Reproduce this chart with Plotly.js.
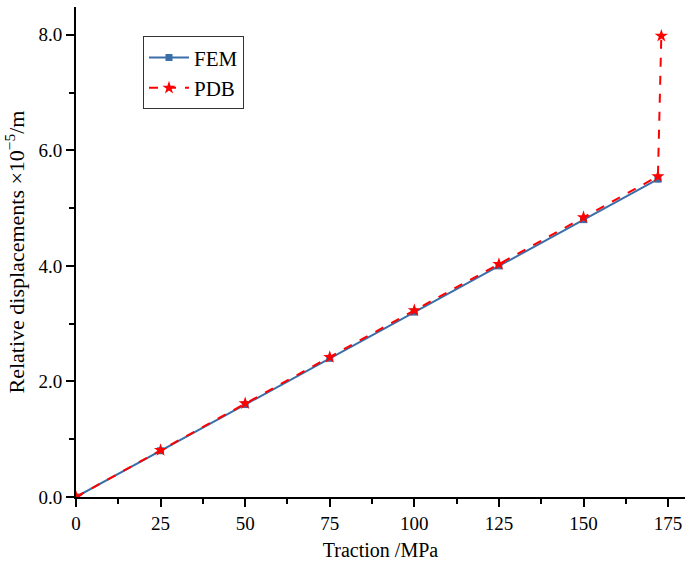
<!DOCTYPE html>
<html><head><meta charset="utf-8">
<script src="https://cdn.plot.ly/plotly-3.0.1.min.js"></script>
<style>body{margin:0;padding:0;background:#fff}#chart{width:686px;height:568px}</style>
</head><body><div id="chart"></div>
<script>
const femX = [0, 25, 50, 75, 100, 125, 150, 172];
const femY = [0, 0.8, 1.6, 2.4, 3.2, 4.0, 4.8, 5.5];
const pdbX = [0, 25, 50, 75, 100, 125, 150, 172, 173];
const pdbY = [0, 0.81, 1.62, 2.42, 3.23, 4.03, 4.84, 5.55, 7.98];
const xTicks = [0, 25, 50, 75, 100, 125, 150, 175];
const yTicks = [0, 2, 4, 6, 8];
const yTickText = ['0.0', '2.0', '4.0', '6.0', '8.0'];

const font = '"Liberation Serif", "Times New Roman", serif';
const traces = [
  {x: femX, y: femY, name: 'FEM', mode: 'lines+markers', type: 'scatter',
   line: {color: '#3a6ea8', width: 2}, marker: {symbol: 'square', size: 7, color: '#3a6ea8'}},
  {x: pdbX, y: pdbY, name: 'PDB', mode: 'lines+markers', type: 'scatter',
   line: {color: '#ff0000', width: 2, dash: 'dash'}, marker: {symbol: 'star', size: 10, color: '#ff0000'}}
];
const layout = {
  width: 686, height: 568,
  margin: {l: 76, r: 1, t: 7, b: 71},
  paper_bgcolor: '#fff', plot_bgcolor: '#fff',
  font: {family: font, size: 19, color: '#000'},
  showlegend: true,
  legend: {x: 0.11, y: 0.94, xanchor: 'left', yanchor: 'top', bordercolor: '#333', borderwidth: 1,
           bgcolor: '#fff', font: {family: font, size: 21, color: '#000'}, tracegroupgap: 0, itemwidth: 40},
  xaxis: {range: [0, 180], tickmode: 'array', tickvals: xTicks, showgrid: false, zeroline: false,
          showline: true, linecolor: '#000', linewidth: 2, ticks: 'outside', ticklen: 8, tickwidth: 2, tickcolor: '#000',
          minor: {dtick: 12.5, tick0: 0, ticks: 'outside', ticklen: 5, tickwidth: 2, tickcolor: '#000', showgrid: false},
          title: {text: 'Traction /MPa', font: {family: font, size: 20}, standoff: 10},
          tickfont: {family: font, size: 19}},
  yaxis: {range: [0, 8.48], tickmode: 'array', tickvals: yTicks, ticktext: yTickText, showgrid: false, zeroline: false,
          showline: true, linecolor: '#000', linewidth: 2, ticks: 'outside', ticklen: 8, tickwidth: 2, tickcolor: '#000',
          minor: {dtick: 1, tick0: 0, ticks: 'outside', ticklen: 5, tickwidth: 2, tickcolor: '#000', showgrid: false},
          title: {text: 'Relative displacements ×10<sup>−5</sup>/m', font: {family: font, size: 22}, standoff: 8},
          tickfont: {family: font, size: 19}}
};
Plotly.newPlot('chart', traces, layout, {displayModeBar: false, staticPlot: true});
</script></body></html>
